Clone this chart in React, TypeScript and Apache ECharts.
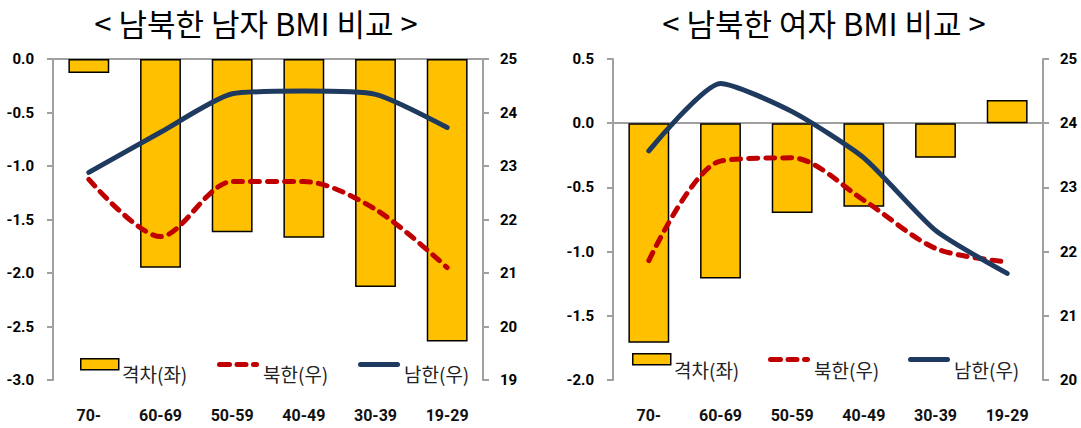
import React, { useEffect, useRef } from "react";
import * as echarts from "echarts";

// Age groups along the category axis
const ageGroups = ["70-", "60-69", "50-59", "40-49", "30-39", "19-29"];

// Men: BMI gap (North - South, left axis) and BMI by country (right axis)
const maleGap = [-0.13, -1.95, -1.62, -1.67, -2.13, -2.64];
const maleNorth = [22.75, 21.68, 22.71, 22.71, 22.19, 21.1];
const maleSouth = [22.88, 23.63, 24.35, 24.4, 24.34, 23.72];

// Women
const femaleGap = [-1.71, -1.21, -0.7, -0.65, -0.27, 0.18];
const femaleNorth = [21.86, 23.41, 23.46, 22.8, 22.05, 21.84];
const femaleSouth = [23.57, 24.62, 24.18, 23.46, 22.33, 21.66];

const seriesNames = ["격차(좌)", "북한(우)", "남한(우)"];
const panelTitles = ["< 남북한 남자 BMI 비교 >", "< 남북한 여자 BMI 비교 >"];

// Axis ranges: [leftMin, leftMax, rightMin, rightMax]
const maleRanges = [-3, 0, 19, 25];
const femaleRanges = [-2, 0.5, 20, 25];

const AXIS_GRAY = "#a0a0a0";
const GOLD = "#FFC000";
const RED = "#C00000";
const NAVY = "#1F3A5F";
const NUM_FONT = "Roboto, 'Liberation Sans', sans-serif";
const KR_FONT = "'Noto Sans CJK KR', sans-serif";

// legend icons: a dashed stroke and a solid stroke with rounded ends (42 x 5 box)
const DASH_ICON =
  "path://M2.5,0h10a2.5,2.5 0 0 1 0,5h-10a2.5,2.5 0 0 1 0,-5z" +
  "M20,0h9a2.5,2.5 0 0 1 0,5h-9a2.5,2.5 0 0 1 0,-5z" +
  "M36.5,0h3a2.5,2.5 0 0 1 0,5h-3a2.5,2.5 0 0 1 0,-5z";
const SOLID_ICON = "path://M2.5,0h37a2.5,2.5 0 0 1 0,5h-37a2.5,2.5 0 0 1 0,-5z";

type Panel = {
  gap: number[];
  north: number[];
  south: number[];
  ranges: number[];
  gridLeft: number;
  // legend layout: swatch x of each entry, swatch row top, label centre row
  legendX: number[];
  legendTop: number;
  labelY: number;
  titleX: number;
  title: string;
};

const panels: Panel[] = [
  { gap: maleGap, north: maleNorth, south: maleSouth, ranges: maleRanges, gridLeft: 53, legendX: [80, 217, 358], legendTop: 358, labelY: 373, titleX: 256, title: panelTitles[0] },
  { gap: femaleGap, north: femaleNorth, south: femaleSouth, ranges: femaleRanges, gridLeft: 613, legendX: [632, 768, 908], legendTop: 353, labelY: 369, titleX: 824, title: panelTitles[1] },
];

const GRID_W = 430;
const GRID_TOP = 59;
const GRID_H = 321;

const iconSpecs = [
  { icon: "rect", w: 38, h: 11, dy: 0, style: { color: GOLD, borderColor: "#000", borderWidth: 1.5 } },
  { icon: DASH_ICON, w: 42, h: 5, dy: 4, style: { color: RED, borderWidth: 0 } },
  { icon: SOLID_ICON, w: 42, h: 5, dy: 4, style: { color: NAVY, borderWidth: 0 } },
];

function buildOption(): echarts.EChartsOption {
  const grid: any[] = [];
  const xAxis: any[] = [];
  const yAxis: any[] = [];
  const series: any[] = [];
  const legend: any[] = [];
  const graphic: any[] = [];

  panels.forEach((p, i) => {
    grid.push({ left: p.gridLeft, top: GRID_TOP, width: GRID_W, height: GRID_H, containLabel: false });

    // labelled category axis at the bottom
    xAxis.push({
      type: "category",
      gridIndex: i,
      data: ageGroups,
      position: "bottom",
      axisLine: { show: false, onZero: false },
      axisTick: { show: false },
      axisLabel: { fontFamily: NUM_FONT, fontWeight: "bold", fontSize: 16, color: "#111", margin: 27 },
    });
    // baseline drawn at zero of the gap axis
    xAxis.push({
      type: "category",
      gridIndex: i,
      data: ageGroups,
      axisLine: { show: true, onZero: true, onZeroAxisIndex: i * 2, lineStyle: { color: AXIS_GRAY, width: 2 } },
      axisTick: { show: false },
      axisLabel: { show: false },
    });

    const [lMin, lMax, rMin, rMax] = p.ranges;
    yAxis.push({
      type: "value",
      gridIndex: i,
      position: "left",
      min: lMin,
      max: lMax,
      interval: 0.5,
      splitLine: { show: false },
      axisLine: { show: true, lineStyle: { color: AXIS_GRAY, width: 2 } },
      axisTick: { show: true, inside: false, length: 6, lineStyle: { color: AXIS_GRAY, width: 2 } },
      axisLabel: {
        fontFamily: NUM_FONT,
        fontWeight: "bold",
        fontSize: 15,
        color: "#000",
        margin: 19,
        formatter: (v: number) => v.toFixed(1),
      },
    });
    yAxis.push({
      type: "value",
      gridIndex: i,
      position: "right",
      min: rMin,
      max: rMax,
      interval: 1,
      splitLine: { show: false },
      axisLine: { show: true, lineStyle: { color: AXIS_GRAY, width: 2 } },
      axisTick: { show: true, inside: false, length: 6, lineStyle: { color: AXIS_GRAY, width: 2 } },
      axisLabel: { fontFamily: NUM_FONT, fontWeight: "bold", fontSize: 15, color: "#000", margin: 17 },
    });

    series.push({
      name: seriesNames[0],
      type: "bar",
      xAxisIndex: i * 2,
      yAxisIndex: i * 2,
      data: p.gap,
      barWidth: "57%",
      itemStyle: { color: GOLD, borderColor: "#000", borderWidth: 1.5 },
    });
    series.push({
      name: seriesNames[1],
      type: "line",
      xAxisIndex: i * 2,
      yAxisIndex: i * 2 + 1,
      data: p.north,
      symbol: "none",
      smooth: 0.3,
      lineStyle: { color: RED, width: 5, type: [9, 8], cap: "round" },
      itemStyle: { color: RED },
    });
    series.push({
      name: seriesNames[2],
      type: "line",
      xAxisIndex: i * 2,
      yAxisIndex: i * 2 + 1,
      data: p.south,
      symbol: "none",
      smooth: 0.2,
      lineStyle: { color: NAVY, width: 5, cap: "round" },
      itemStyle: { color: NAVY },
    });

    // one legend per entry so each swatch sits exactly where it should;
    // the entry names are drawn as separate text next to the swatches
    iconSpecs.forEach((spec, k) => {
      legend.push({
        left: p.legendX[k],
        top: p.legendTop + spec.dy,
        padding: 0,
        itemWidth: spec.w,
        itemHeight: spec.h,
        selectedMode: false,
        itemStyle: spec.style,
        data: [{ name: seriesNames[k], icon: spec.icon }],
        formatter: () => "",
        textStyle: { fontSize: 4, lineHeight: 4 },
      });
      graphic.push({
        type: "text",
        x: p.legendX[k] + spec.w + 4,
        y: p.labelY,
        silent: true,
        style: {
          text: seriesNames[k],
          fontFamily: KR_FONT,
          fontSize: 19,
          fill: "#222",
          textAlign: "left",
          textVerticalAlign: "middle",
        },
      });
    });

    graphic.push({
      type: "text",
      x: p.titleX,
      y: 22,
      silent: true,
      style: {
        text: p.title,
        fontFamily: KR_FONT,
        fontSize: 31,
        fill: "#000",
        textAlign: "center",
        textVerticalAlign: "middle",
      },
    });
  });

  return { animation: false, backgroundColor: "#fff", grid, xAxis, yAxis, series, legend, graphic };
}

export default function App() {
  const ref = useRef<HTMLDivElement>(null);
  useEffect(() => {
    if (!ref.current) return;
    const chart = echarts.init(ref.current, undefined, { renderer: "svg" });
    chart.setOption(buildOption());
    return () => chart.dispose();
  }, []);
  return (
    <div
      ref={ref}
      style={{ position: "fixed", left: 0, top: 0, width: 1081, height: 428, background: "#fff" }}
    />
  );
}
